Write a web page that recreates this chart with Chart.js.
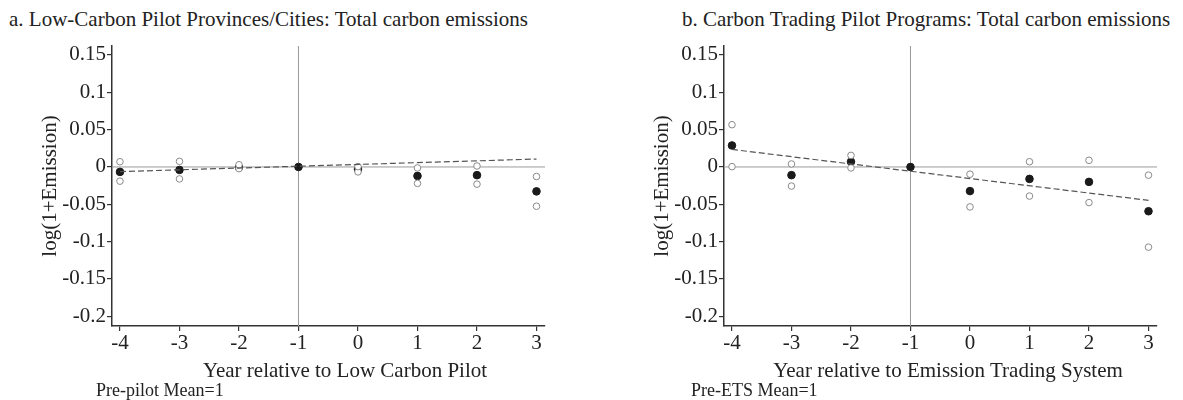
<!DOCTYPE html>
<html>
<head>
<meta charset="utf-8">
<script src="https://cdn.jsdelivr.net/npm/chart.js@4.4.0/dist/chart.umd.min.js"></script>
<style>
  body { margin: 0; background: #fff; }
  #pagina { position: relative; width: 1183px; height: 400px; overflow: hidden;
            font-family: "Liberation Serif", "Times New Roman", serif; color: #222; }
  .texto { position: absolute; white-space: nowrap; line-height: 1; }
  .painel { position: absolute; top: 0; width: 571px; height: 400px; }
</style>
</head>
<body>
<div id="pagina">
  <div class="texto" style="left:9px;top:9px;font-size:21px">a. Low-Carbon Pilot Provinces/Cities: Total carbon emissions</div>
  <div class="texto" style="left:682px;top:9px;font-size:21px">b. Carbon Trading Pilot Programs: Total carbon emissions</div>

  <div class="painel" style="left:0"><canvas id="chartA" width="571" height="400"></canvas></div>
  <div class="painel" style="left:612px"><canvas id="chartB" width="571" height="400"></canvas></div>

  <div class="texto" style="left:345px;top:360px;font-size:21px;transform:translateX(-50%)">Year relative to Low Carbon Pilot</div>
  <div class="texto" style="left:948px;top:360px;font-size:21px;transform:translateX(-50%)">Year relative to Emission Trading System</div>
  <div class="texto" style="left:96px;top:381px;font-size:18px">Pre-pilot Mean=1</div>
  <div class="texto" style="left:691px;top:381px;font-size:18px">Pre-ETS Mean=1</div>
</div>

<script>
// anos relativos ao inicio da politica
const anos = [-4, -3, -2, -1, 0, 1, 2, 3];
const ticksX = [-4, -3, -2, -1, 0, 1, 2, 3];
const ticksY = [0.15, 0.1, 0.05, 0, -0.05, -0.1, -0.15, -0.2];

// a. Low-Carbon Pilot
const baixoCarbonoCoef = [-0.0066, -0.004, -0.0005, 0, -0.003, -0.012, -0.011, -0.0327];
const baixoCarbonoSup = [0.007, 0.0075, 0.003, null, 0.0005, -0.0013, 0.0013, -0.0128];
const baixoCarbonoInf = [-0.019, -0.016, -0.0023, null, -0.0066, -0.022, -0.023, -0.0526];
const baixoCarbonoTendencia = [-0.0062, 0.0106]; // no primeiro e no ultimo ano

// b. Carbon Trading Pilot
const comercioCoef = [0.0288, -0.011, 0.007, 0, -0.0323, -0.016, -0.020, -0.0593];
const comercioSup = [0.0566, 0.004, 0.0155, null, -0.0097, 0.007, 0.0089, -0.011];
const comercioInf = [0.0004, -0.0256, -0.0013, null, -0.0535, -0.039, -0.0477, -0.1074];
const comercioTendencia = [0.0235, -0.0447];

const fonte = "'Liberation Serif', 'Times New Roman', serif";

// linhas de referencia em y=0 e x=-1
const linhasReferencia = {
  id: "linhasReferencia",
  beforeDatasetsDraw(chart) {
    const { ctx, chartArea, scales } = chart;
    const y0 = scales.y.getPixelForValue(0);
    const x0 = scales.x.getPixelForValue(-1);
    ctx.save();
    ctx.strokeStyle = "#9a9a9a";
    ctx.lineWidth = 1;
    ctx.beginPath();
    ctx.moveTo(chartArea.left, y0);
    ctx.lineTo(chartArea.right, y0);
    ctx.moveTo(x0, chartArea.top);
    ctx.lineTo(x0, chartArea.bottom);
    ctx.stroke();
    ctx.restore();
  }
};

function pontos(valores) {
  return anos.map((a, i) => ({ x: a, y: valores[i] }));
}

function criarGrafico(id, coef, sup, inf, tendencia) {
  const ctx = document.getElementById(id).getContext("2d");
  return new Chart(ctx, {
    type: "scatter",
    data: {
      datasets: [
        {
          type: "line",
          data: [
            { x: anos[0], y: tendencia[0] },
            { x: anos[anos.length - 1], y: tendencia[1] }
          ],
          borderColor: "#555",
          borderWidth: 1.2,
          borderDash: [6, 3],
          pointRadius: 0,
          fill: false
        },
        {
          data: pontos(sup),
          pointRadius: 3.3,
          backgroundColor: "#fff",
          borderColor: "#8a8a8a",
          borderWidth: 1
        },
        {
          data: pontos(inf),
          pointRadius: 3.3,
          backgroundColor: "#fff",
          borderColor: "#8a8a8a",
          borderWidth: 1
        },
        {
          data: pontos(coef),
          pointRadius: 3.8,
          backgroundColor: "#1a1a1a",
          borderColor: "#1a1a1a",
          borderWidth: 1
        }
      ]
    },
    options: {
      responsive: false,
      animation: false,
      events: [],
      layout: { padding: { top: 46, right: 26, bottom: 0, left: 0 } },
      plugins: { legend: { display: false }, tooltip: { enabled: false } },
      scales: {
        x: {
          type: "linear",
          min: -4.134,
          max: 3.143,
          afterBuildTicks: s => { s.ticks = ticksX.map(v => ({ value: v })); },
          afterFit: s => { s.height = 74; },
          grid: { drawOnChartArea: false, drawTicks: true, tickLength: 5, color: "#333", lineWidth: 1.2 },
          border: { display: true, color: "#333", width: 1.5 },
          ticks: { font: { family: fonte, size: 21 }, color: "#222", padding: 0, maxRotation: 0,
                   callback: v => String(v) }
        },
        y: {
          min: -0.213,
          max: 0.162,
          afterBuildTicks: s => { s.ticks = ticksY.map(v => ({ value: v })); },
          afterFit: s => { s.width = 112; },
          grid: { drawOnChartArea: false, drawTicks: true, tickLength: 5, color: "#333", lineWidth: 1.2 },
          border: { display: true, color: "#333", width: 1.5 },
          ticks: { font: { family: fonte, size: 21 }, color: "#222", padding: 1,
                   callback: v => String(Number(v.toFixed(2))) },
          title: { display: true, text: "log(1+Emission)", color: "#222",
                   font: { family: fonte, size: 21 }, padding: { top: 38, bottom: 0 } }
        }
      }
    },
    plugins: [linhasReferencia]
  });
}

criarGrafico("chartA", baixoCarbonoCoef, baixoCarbonoSup, baixoCarbonoInf, baixoCarbonoTendencia);
criarGrafico("chartB", comercioCoef, comercioSup, comercioInf, comercioTendencia);
</script>
</body>
</html>
